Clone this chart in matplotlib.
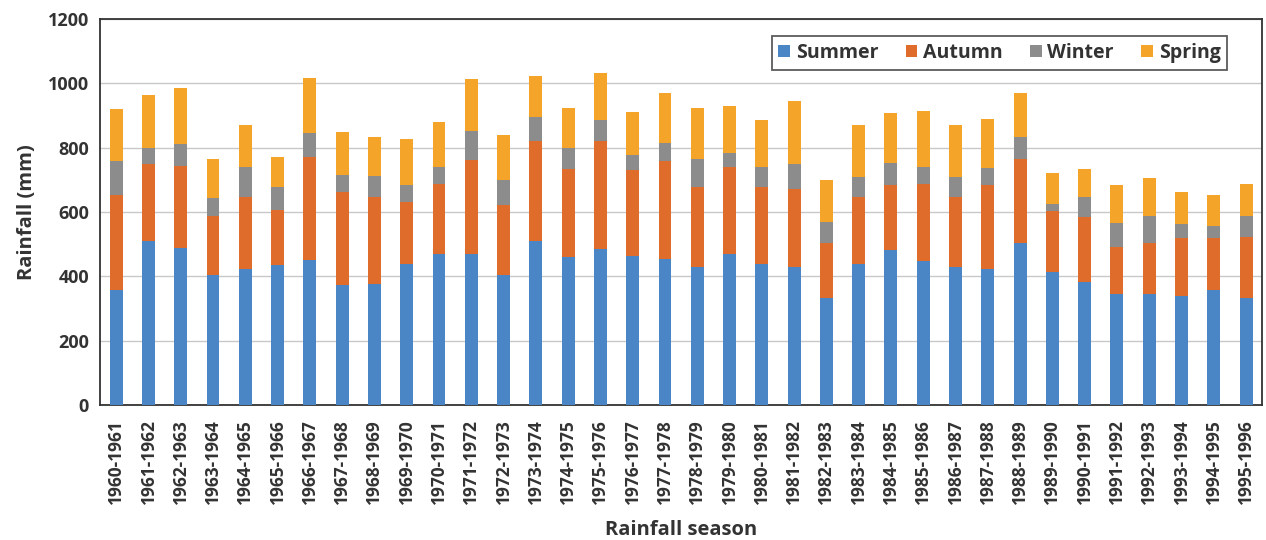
import numpy as np
import matplotlib
matplotlib.use("Agg")
import matplotlib.pyplot as plt

# rainfall seasons and the four season totals (mm)
seasons = [f"{y}-{y + 1}" for y in range(1960, 1996)]

summer = [358, 511, 487, 405, 423, 435, 451, 373, 376, 439,
          469, 469, 405, 509, 461, 486, 463, 455, 430, 469,
          439, 429, 334, 438, 482, 447, 429, 424, 502, 414,
          381, 344, 344, 339, 358, 334]
autumn = [296, 237, 255, 181, 223, 172, 320, 288, 271, 191,
          219, 291, 216, 311, 273, 336, 266, 303, 249, 272,
          240, 241, 171, 208, 203, 240, 217, 261, 263, 190,
          202, 148, 159, 180, 161, 188]
winter = [104, 52, 68, 58, 93, 71, 75, 53, 64, 55,
          53, 92, 77, 74, 66, 63, 47, 57, 86, 43,
          61, 78, 64, 63, 68, 53, 63, 52, 68, 21,
          63, 73, 85, 43, 36, 65]
spring = [163, 163, 174, 122, 130, 92, 171, 135, 122, 141,
          140, 161, 140, 128, 123, 147, 136, 155, 158, 144,
          147, 197, 130, 162, 153, 173, 160, 152, 137, 95,
          89, 120, 118, 99, 97, 101]

series = [("Summer", summer, "#4a86c6"),
          ("Autumn", autumn, "#e06c2c"),
          ("Winter", winter, "#8c8c8c"),
          ("Spring", spring, "#f5a42a")]

plt.rcParams['font.family'] = ['Open Sans', 'DejaVu Sans']

fig = plt.figure(figsize=(12.66, 5.4), dpi=100)
ax = fig.add_axes([0.079, 0.25, 0.918, 0.715])

x = np.arange(len(seasons))
bottom = np.zeros(len(seasons))
for name, vals, col in series:
    vals = np.array(vals)
    ax.bar(x, vals, width=0.4, bottom=bottom, color=col, label=name, zorder=3)
    bottom += vals

ax.set_xlim(-0.5, len(seasons) - 0.5)
ax.set_ylim(0, 1200)
ax.set_yticks(range(0, 1201, 200))
ax.yaxis.grid(True, color="#c8c8c8", linewidth=1, zorder=0)
ax.tick_params(axis='y', length=0, labelsize=13, pad=8, labelcolor="#333333")
ax.tick_params(axis='x', length=0, labelsize=12.5, pad=10, labelcolor="#333333")
ax.set_xticks(x)
ax.set_xticklabels(seasons, rotation=90, fontweight='bold')
for lab in ax.get_yticklabels():
    lab.set_fontweight('bold')

for sp in ax.spines.values():
    sp.set_color("#333333")
    sp.set_linewidth(1.3)

ax.set_ylabel("Rainfall (mm)", fontsize=14.5, fontweight='bold', color="#333333", labelpad=8)
ax.set_xlabel("Rainfall season", fontsize=14.5, fontweight='bold', color="#333333", labelpad=12)

leg = ax.legend(loc='upper right', ncol=4, bbox_to_anchor=(0.975, 0.97),
                prop={'size': 14, 'weight': 'bold'}, frameon=True, fancybox=False,
                handlelength=0.6, handleheight=0.6, handletextpad=0.3, columnspacing=1.4,
                borderpad=0.35, borderaxespad=0.3)
leg.get_frame().set_edgecolor("#333333")
leg.get_frame().set_linewidth(1.3)
for t in leg.get_texts():
    t.set_color("#333333")

fig.savefig("out.png", dpi=100)
